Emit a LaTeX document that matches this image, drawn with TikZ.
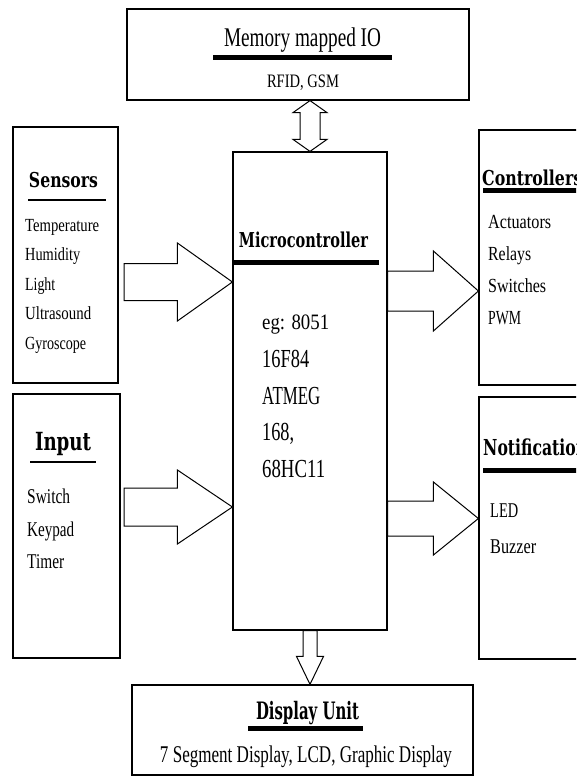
\documentclass[tikz,border=0pt]{standalone}
\usepackage{fontspec}
\usepackage{graphicx}
\setmainfont{Liberation Serif}
\newfontfamily\headfont{DejaVu Serif}
\usetikzlibrary{calc}

% text helpers: size, and squeeze to a given width keeping the height
\newcommand\fsz[1]{\fontsize{#1}{#1}\selectfont}
\newcommand\fitw[2]{\resizebox{#1pt}{\height}{#2}}
\newcommand\hd[3]{{\headfont\bfseries\fsz{#1}\fitw{#2}{#3}}}
\newcommand\rg[3]{{\fsz{#1}\fitw{#2}{#3}}}

% horizontal block arrow: tail, tip, half shaft, half head, head length
\newcommand\harrow[5]{%
  \draw[blk] ($(#1)+(0,-#3)$) -- ($(#2)+(-#5,-#3)$) -- ($(#2)+(-#5,-#4)$) -- (#2)
    -- ($(#2)+(-#5,#4)$) -- ($(#2)+(-#5,#3)$) -- ($(#1)+(0,#3)$) -- cycle;}
% downward block arrow
\newcommand\varrow[5]{%
  \draw[blk] ($(#1)+(-#3,0)$) -- ($(#2)+(-#3,-#5)$) -- ($(#2)+(-#4,-#5)$) -- (#2)
    -- ($(#2)+(#4,-#5)$) -- ($(#2)+(#3,-#5)$) -- ($(#1)+(#3,0)$) -- cycle;}
% two-headed vertical block arrow: top tip, bottom tip
\newcommand\dvarrow[5]{%
  \draw[blk] (#1) -- ($(#1)+(#4,#5)$) -- ($(#1)+(#3,#5)$) -- ($(#2)+(#3,-#5)$)
    -- ($(#2)+(#4,-#5)$) -- (#2) -- ($(#2)+(-#4,-#5)$) -- ($(#2)+(-#3,-#5)$)
    -- ($(#1)+(-#3,#5)$) -- ($(#1)+(-#4,#5)$) -- cycle;}

\tikzset{
  box/.style={draw=black, line width=1.2pt, inner sep=0pt},
  lbl/.style={inner sep=0pt, anchor=base west, text=black},
  ttl/.style={inner sep=0pt, anchor=base, text=black},
  hbar/.style={draw=black, line width=5pt},
  tbar/.style={draw=black, line width=2.4pt},
  blk/.style={draw=black, line width=1pt, fill=white, miter limit=20},
}

\begin{document}
\begin{tikzpicture}[x=1pt, y=-1pt]
\useasboundingbox (0,0) rectangle (576,776);
\fill[white] (0,0) rectangle (576,776);
\clip (0,0) rectangle (576,776);

% blocks
\node[box, minimum width=342, minimum height=91]  (mem)   at (298,54.5)  {};
\node[box, minimum width=154, minimum height=478] (micro) at (310,391)   {};
\node[box, minimum width=341, minimum height=90]  (disp)  at (302.5,730) {};
\node[box, minimum width=105, minimum height=256] (sens)  at (65.5,255)  {};
\node[box, minimum width=107, minimum height=264] (inp)   at (66.5,526)  {};
\node[box, minimum width=141, minimum height=255] (ctrl)  at (549.5,257.5) {};
\node[box, minimum width=141, minimum height=262] (note)  at (549.5,528) {};

% memory mapped IO
\node[ttl] (memT) at (302.5,47) {\rg{27}{157}{Memory mapped IO}};
\draw[hbar] (213,57.5) -- (392,57.5);
\node[ttl] (memS) at (303,87) {\rg{19}{72}{RFID, GSM}};

% microcontroller
\node[ttl] (micT) at (303.5,247) {\hd{20.5}{129}{Microcontroller}};
\draw[hbar] (233,262) -- (379,262);
\foreach \t/\s/\w/\y [count=\i] in
  {eg: 8051/22/67/329, 16F84/26/47/367, ATMEG/26/58/404, {168,}/26/32/440, 68HC11/26/63/477}
  \node[lbl] (mic\i) at (262,\y) {\rg{\s}{\w}{\t}};

% sensors
\node[ttl] (senT) at (63.5,187) {\hd{20.5}{69}{Sensors}};
\draw[tbar] (28,200) -- (106,200);
\foreach \t/\w/\y [count=\i] in
  {Temperature/74/231, Humidity/55/260.5, Light/30/290, Ultrasound/66/319.5, Gyroscope/61/349}
  \node[lbl] (sen\i) at (25,\y) {\rg{18.5}{\w}{\t}};

% input
\node[ttl] (inpT) at (63,450) {\hd{25}{56}{Input}};
\draw[tbar] (30,462) -- (96,462);
\foreach \t/\w/\y [count=\i] in {Switch/43/503, Keypad/47/536, Timer/37/568}
  \node[lbl] (inp\i) at (27,\y) {\rg{21}{\w}{\t}};

% controllers
\node[lbl] (ctrT) at (482,185) {\hd{20.5}{100}{Controllers}};
\draw[hbar] (483,190) -- (600,190);
\foreach \t/\w/\y [count=\i] in {Actuators/63/228, Relays/43/260, Switches/58/292, PWM/33/324}
  \node[lbl] (ctr\i) at (488,\y) {\rg{20}{\w}{\t}};

% notification
\node[lbl] (notT) at (483,455) {\hd{22}{104}{Notification}};
\draw[hbar] (483,470) -- (600,470);
\foreach \t/\w/\y [count=\i] in {LED/28/517, Buzzer/46/553}
  \node[lbl] (not\i) at (490,\y) {\rg{21}{\w}{\t}};

% display unit
\node[ttl] (disT) at (307.5,719) {\hd{24}{103}{Display Unit}};
\draw[hbar] (248,728.5) -- (363,728.5);
\node[ttl] (disS) at (306,762) {\rg{24}{292}{7 Segment Display, LCD, Graphic Display}};

% connectors
\coordinate (sa) at (124,282);
\coordinate (sb) at (micro.west |- sa);
\harrow{sa}{sb}{18.5}{39}{55}

\coordinate (ia) at (124,507);
\coordinate (ib) at (micro.west |- ia);
\harrow{ia}{ib}{19}{37}{55}

\coordinate (ca) at (micro.east |- 0,291);
\coordinate (cb) at (ctrl.west |- ca);
\harrow{ca}{cb}{20}{40}{45}

\coordinate (na) at (micro.east |- 0,518.5);
\coordinate (nb) at (note.west |- na);
\harrow{na}{nb}{17.5}{36.5}{45}

\varrow{micro.south}{disp.north -| micro.south}{7}{13.5}{28}

\dvarrow{micro.north |- mem.south}{micro.north}{10}{17}{12}
\end{tikzpicture}
\end{document}
